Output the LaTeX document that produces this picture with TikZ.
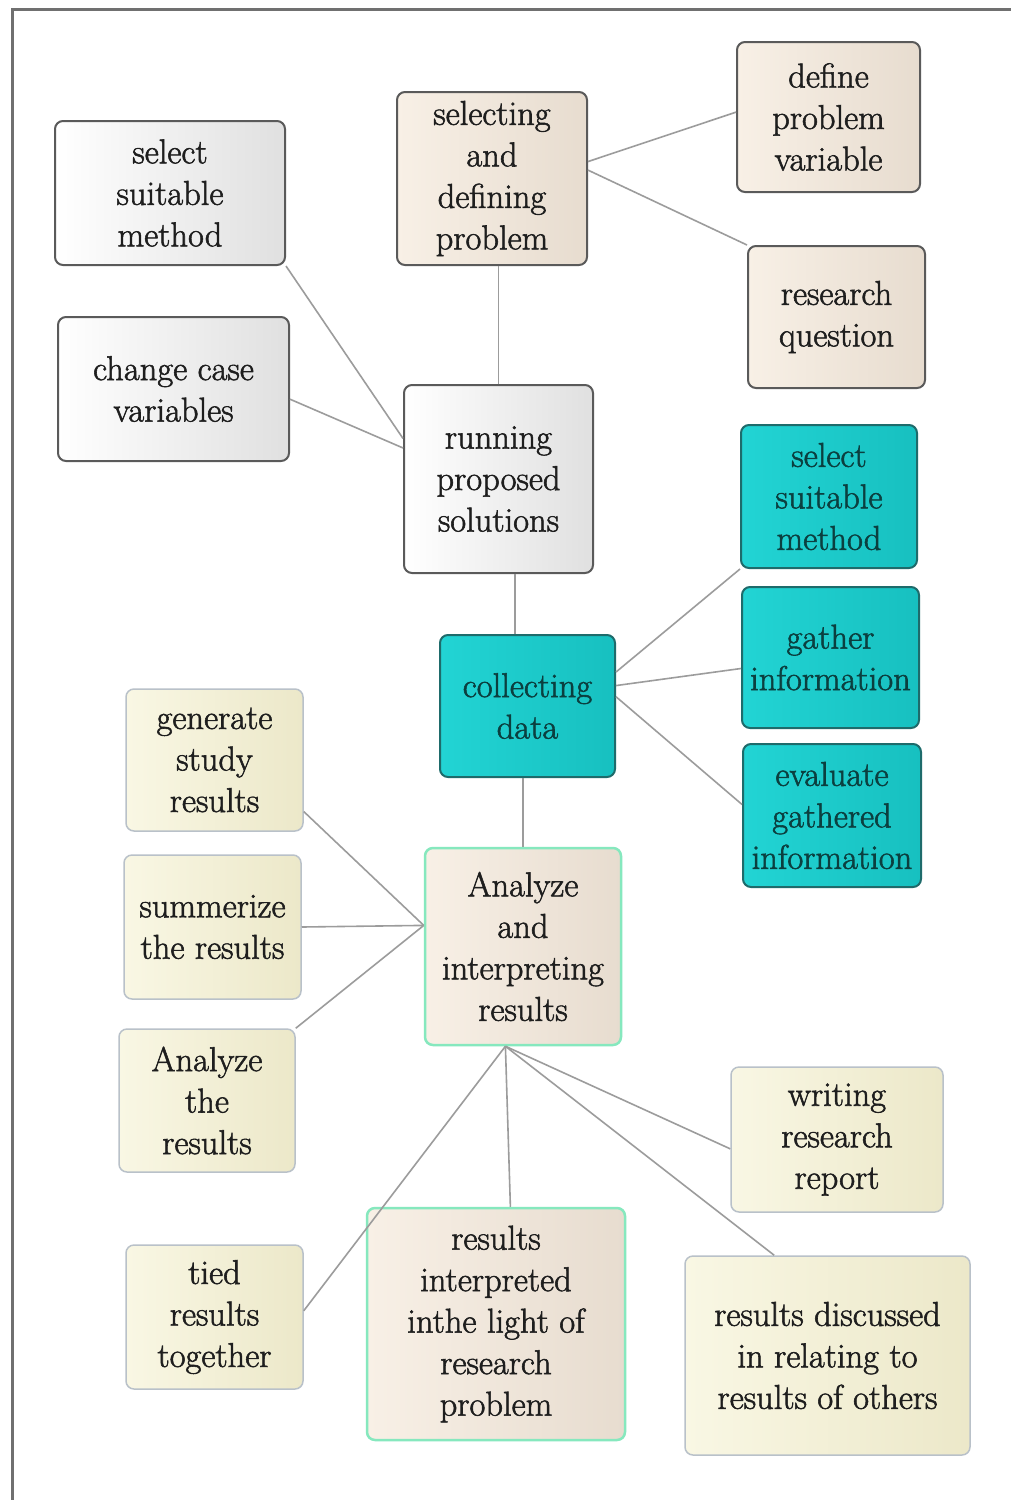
\documentclass[tikz,border=0pt]{standalone}
\usepackage{fontspec}
\newfontfamily\boxfont{Latin Modern Roman}[FakeBold=1.6]
\definecolor{textdark}{HTML}{1E1E1E}
\definecolor{tealtext}{HTML}{0B3F3F}
\definecolor{edgegrey}{HTML}{5A5A5A}
\definecolor{beigeL}{HTML}{F8F0E6}
\definecolor{beigeR}{HTML}{E7DCCF}
\definecolor{greyL}{HTML}{FFFFFF}
\definecolor{greyR}{HTML}{E0E0E0}
\definecolor{tealL}{HTML}{22D4D4}
\definecolor{tealR}{HTML}{17C0C0}
\definecolor{tealedge}{HTML}{1E6B6B}
\definecolor{creamL}{HTML}{F9F7E4}
\definecolor{creamR}{HTML}{ECE8C9}
\definecolor{creamedge}{HTML}{B9C1C9}
\definecolor{mintedge}{HTML}{86E8BE}
\definecolor{linkgrey}{HTML}{9C9C9C}
\definecolor{framegrey}{HTML}{707070}
\begin{document}
\begin{tikzpicture}[x=1pt,y=-1pt,
  box/.style={rectangle, rounded corners=8pt, align=center, inner sep=0pt,
    font=\boxfont\fontsize{34.5}{41.5}\selectfont, text=textdark, line width=2pt},
  beigebox/.style={box, draw=edgegrey, left color=beigeL, right color=beigeR},
  greybox/.style={box, draw=edgegrey, left color=greyL, right color=greyR},
  tealbox/.style={box, draw=tealedge, text=tealtext, left color=tealL, right color=tealR},
  creambox/.style={box, draw=creamedge, line width=1.5pt, left color=creamL, right color=creamR},
  mintbox/.style={box, draw=mintedge, line width=2.5pt, left color=beigeL, right color=beigeR},
  link/.style={draw=linkgrey, line width=1.6pt}
]
\useasboundingbox (0,0) rectangle (1011,1500);
\fill[white] (0,0) rectangle (1011,1500);

% frame
\draw[framegrey, line width=3pt] (12,1500) -- (12,9) -- (1011,9);

% problem definition branch
\node[beigebox, minimum width=190, minimum height=173] (seldef) at (492,178.5) {selecting\\and\\defining\\problem};
\node[beigebox, minimum width=183, minimum height=150] (defvar) at (828.5,117) {define\\problem\\variable};
\node[beigebox, minimum width=177, minimum height=142] (resq) at (836.5,317) {research\\question};

% running solutions branch
\node[greybox, minimum width=230, minimum height=144] (selmeth) at (170,193) {select\\suitable\\method};
\node[greybox, minimum width=231, minimum height=144] (change) at (173.5,389) {change case\\variables};
\node[greybox, minimum width=189, minimum height=188] (running) at (498.5,479) {running\\proposed\\solutions};

% data collection branch
\node[tealbox, minimum width=175, minimum height=142] (collect) at (527.5,706) {collecting\\data};
\node[tealbox, minimum width=176, minimum height=143] (tsel) at (829,496.5) {select\\suitable\\method};
\node[tealbox, minimum width=177, minimum height=141] (gather) at (830.5,657.5) {gather\\information};
\node[tealbox, minimum width=178, minimum height=143] (evalu) at (832,815.5) {evaluate\\gathered\\information};

% analysis branch
\node[mintbox, minimum width=196, minimum height=197] (analyze) at (523,946.5) {Analyze\\and\\interpreting\\results};
\node[creambox, minimum width=177, minimum height=142] (generate) at (214.5,760) {generate\\study\\results};
\node[creambox, minimum width=177, minimum height=144] (summ) at (212.5,927) {summerize\\the results};
\node[creambox, minimum width=176, minimum height=143] (anthe) at (207,1100.5) {Analyze\\the\\results};
\node[creambox, minimum width=177, minimum height=144] (tied) at (214.5,1317) {tied\\results\\together};
\node[mintbox, minimum width=258, minimum height=232] (resint) at (496,1324) {results\\interpreted\\inthe light of\\research\\problem};
\node[creambox, minimum width=212, minimum height=145] (writing) at (837,1139.5) {writing\\research\\report};
\node[creambox, minimum width=285, minimum height=199] (disc) at (827.5,1355.5) {results discussed\\in relating to\\results of others};

% connectors
\draw[link] (running.north) -- (running.north |- seldef.south);
\draw[link] (seldef.10) -- (defvar.177);
\draw[link] (seldef.5) -- (resq.north west);
\draw[link] (selmeth.south east) -- (running.157);
\draw[link] (change.-5) -- (running.162);
\draw[link] (running.-80) -- (running.-80 |- collect.north);
\draw[link] (collect.21) -- (tsel.south west);
\draw[link] (collect.13) -- (gather.187);
\draw[link] (collect.6) -- (evalu.173);
\draw[link] (analyze.north) -- (analyze.north |- collect.south);
\draw[link] (generate.-30) -- (analyze.168);
\draw[link] (summ.east) -- (analyze.168);
\draw[link] (anthe.north east) -- (analyze.168);
\draw[link] (analyze.-100) -- (tied.4);
\draw[link] (analyze.-100) -- (resint.83);
\draw[link] (analyze.-100) -- (writing.185);
\draw[link] (analyze.-100) -- (disc.118);
\end{tikzpicture}
\end{document}
